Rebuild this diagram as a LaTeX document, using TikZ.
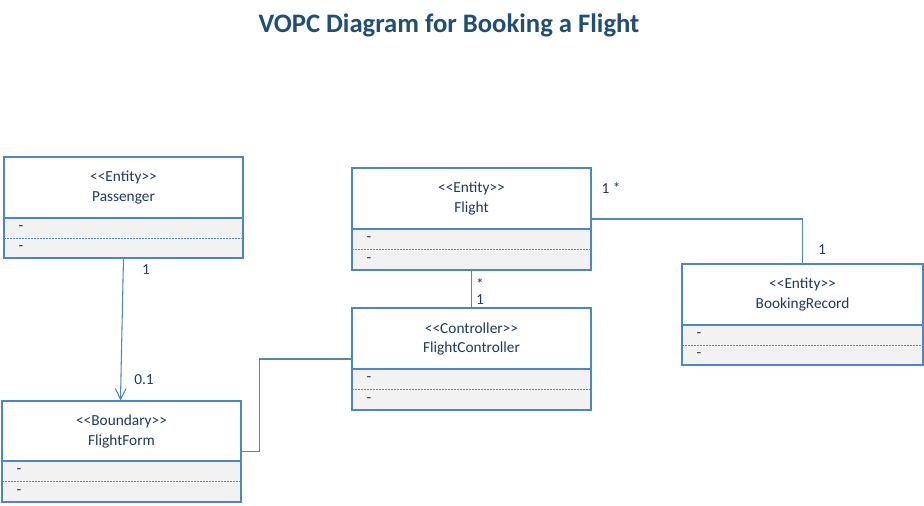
\documentclass[tikz,border=0pt]{standalone}
\usepackage{fontspec}
\setmainfont{Carlito}
\usetikzlibrary{arrows.meta,fit,calc}
\definecolor{linec}{HTML}{4A86C8}
\definecolor{txtc}{HTML}{1F3A60}
\definecolor{titlec}{HTML}{1F4E79}
\definecolor{attrc}{HTML}{F2F2F2}
\newcommand{\lgu}{<\kern0pt<}
\newcommand{\rgu}{>\kern0pt>}
\tikzset{
 classframe/.style={draw=linec, line width=0.8pt, inner sep=0pt},
 compline/.style={draw=linec, line width=0.8pt},
 sepline/.style={draw=linec, line width=0.7pt, dash pattern=on 1.5pt off 0.75pt},
 ctext/.style={text=txtc, font=\fontsize{11.5}{13}\selectfont, inner sep=0pt, anchor=center},
 mult/.style={ctext},
 assoc/.style={draw=linec, line width=0.8pt},
 nav/.style={assoc, -{Straight Barb[length=8pt,width=8pt]}},
 titlestyle/.style={text=titlec, font=\fontsize{20}{23}\selectfont\bfseries, inner sep=0pt},
}
% #1 name, #2 x1, #3 top, #4 x2, #5 header bottom, #6 bottom, #7 stereotype, #8 class name
\newcommand{\umlclass}[8]{%
 \fill[attrc] (#2,#5) rectangle (#4,#6);
 \draw[sepline] ({#2},{(#5+#6)/2}) -- ({#4},{(#5+#6)/2});
 \draw[compline] (#2,#5) -- (#4,#5);
 \node[classframe, fit={(#2,#3) (#4,#6)}] (#1) {};
 \node[ctext] (#1-st) at ({(#2+#4)/2},{#3+(#5-#3)/2-10}) {#7};
 \node[ctext] (#1-nm) at ({(#2+#4)/2},{#3+(#5-#3)/2+10}) {#8};
 \node[ctext] (#1-a) at ({#2+17},{#5+(#6-#5)/4}) {-};
 \node[ctext] (#1-o) at ({#2+17},{#5+3*(#6-#5)/4}) {-};
}
\begin{document}
\begin{tikzpicture}[x=0.75pt,y=-0.75pt]
\useasboundingbox (0,0) rectangle (924,506);
\fill[white] (0,0) rectangle (924,506);
\node[titlestyle] (title) at (449,25) {VOPC Diagram for Booking a Flight};
\umlclass{P}{4}{157}{243}{218}{258}{\lgu Entity\rgu}{Passenger}
\umlclass{FL}{352}{168}{591}{229}{270}{\lgu Entity\rgu}{Flight}
\umlclass{FC}{352}{308}{591}{369}{410}{\lgu Controller\rgu}{FlightController}
\umlclass{FF}{2}{401}{241}{461}{502}{\lgu Boundary\rgu}{FlightForm}
\umlclass{BR}{682}{264}{923}{325}{365}{\lgu Entity\rgu}{BookingRecord}
% connectors
\draw[nav] ($(P.south west)+(120,0)$) -- ($(FF.north west)+(119,0)$);
\draw[assoc] (FF.east) -- ++(18,0) |- (FC.west);
\draw[assoc] (FL.south) -- (FC.north);
\draw[assoc] (FL.east) -| (BR.north);
% multiplicities
\node[mult] (m1) at (146,270) {1};
\node[mult] (m2) at (144,380) {0.1};
\node[mult] (m3) at (480,284) {*};
\node[mult] (m4) at (480,300) {1};
\node[mult] (m5) at (611,188) {1 *};
\node[mult] (m6) at (822,250) {1};
\end{tikzpicture}
\end{document}
